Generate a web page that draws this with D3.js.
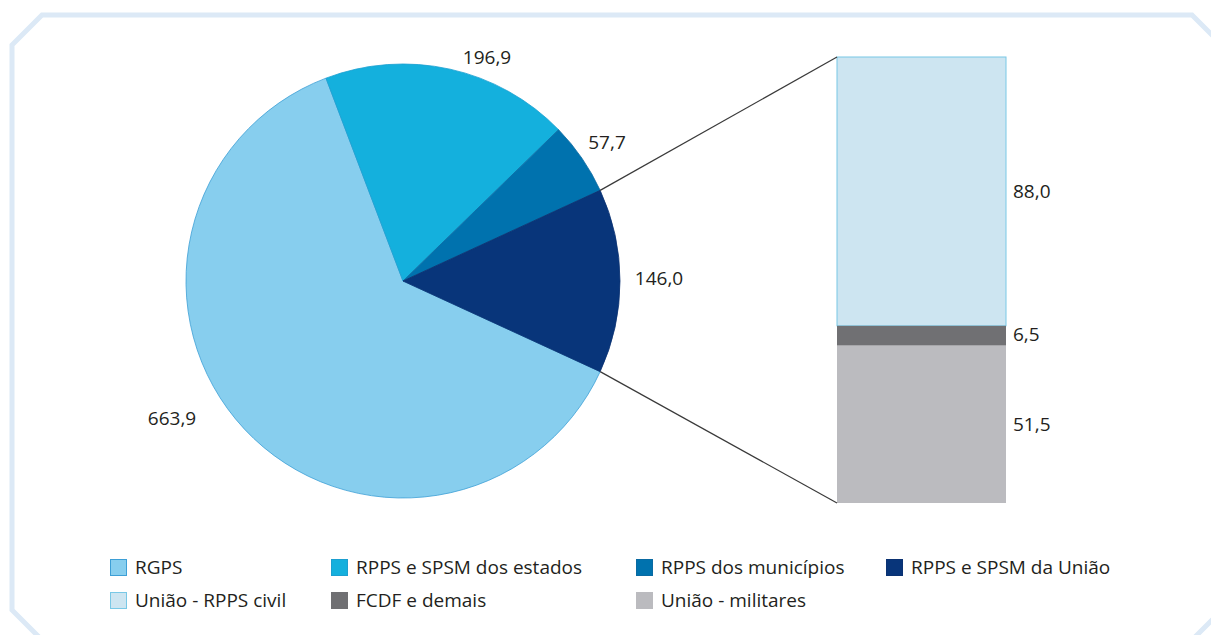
<!DOCTYPE html>
<html>
<head>
<meta charset="utf-8">
<script src="https://cdn.jsdelivr.net/npm/d3@7"></script>
<style>
  body { margin: 0; background: #fff; }
  text { font-family: "Open Sans", sans-serif; fill: #231f20; }
</style>
</head>
<body>
<div id="chart"></div>
<script>
var width = 1211;
var height = 635;

// pie data (R$ bilhões)
var pieLabels = ["RGPS", "RPPS e SPSM dos estados", "RPPS dos municípios", "RPPS e SPSM da União"];
var pieValues = [663.9, 196.9, 57.7, 146.0];
var pieColors = ["#87ceee", "#14b0dd", "#0072ae", "#08357a"];
var pieStroke = ["#3d9fd6", "#1c9fd0", "#0a6aa2", "#0b3272"];

// breakdown of the União slice
var barLabels = ["União - RPPS civil", "FCDF e demais", "União - militares"];
var barValues = [88.0, 6.5, 51.5];
var barColors = ["#cde5f1", "#707073", "#bbbbbf"];
var barStroke = ["#79c8e6", "#707073", "#bbbbbf"];

var fmt = function(v){ return v.toFixed(1).replace(".", ","); };

var svg = d3.select("#chart")
            .append("svg")
            .attr("width", width)
            .attr("height", height);

// frame with cut corners
var fx0 = 12, fy0 = 15, fx1 = 1222, fy1 = 640, cut = 30;
svg.append("path")
    .attr("d", "M" + (fx0+cut) + "," + fy0 + "L" + (fx1-cut) + "," + fy0 + "L" + fx1 + "," + (fy0+cut) +
               "L" + fx1 + "," + (fy1-cut) + "L" + (fx1-cut) + "," + fy1 + "L" + (fx0+cut) + "," + fy1 +
               "L" + fx0 + "," + (fy1-cut) + "L" + fx0 + "," + (fy0+cut) + "Z")
    .style("fill", "none")
    .style("stroke", "#dce9f6")
    .style("stroke-width", 5);

// pie
var cx = 403, cy = 281, r = 217;
var total = d3.sum(pieValues);
var uniaoAngle = pieValues[3] / total * 2 * Math.PI;
var start = Math.PI / 2 + uniaoAngle / 2;

var pie = d3.pie().sort(null).startAngle(start).endAngle(start + 2 * Math.PI);
var arcs = pie(pieValues);
var arc = d3.arc().innerRadius(0).outerRadius(r);

var g = svg.append("g").attr("transform", "translate(" + cx + "," + cy + ")");
g.selectAll("path")
    .data(arcs)
    .enter()
    .append("path")
    .attr("d", arc)
    .style("fill", function(d, i){ return pieColors[i]; })
    .style("stroke", function(d, i){ return pieStroke[i]; })
    .style("stroke-width", 0.8);

// pie labels
var labelPos = [[-231, 137], [84, -224], [204, -139], [256, -3]];
g.selectAll("text.val")
    .data(arcs)
    .enter()
    .append("text")
    .attr("class", "val")
    .attr("x", function(d, i){ return labelPos[i][0]; })
    .attr("y", function(d, i){ return labelPos[i][1]; })
    .attr("dy", "0.35em")
    .attr("text-anchor", "middle")
    .style("font-size", "19px")
    .text(function(d){ return fmt(d.value); });

// stacked bar
var bx = 837, bw = 169, btop = 57, bbot = 503;
var y = d3.scaleLinear().domain([0, d3.sum(barValues)]).range([btop, bbot]);
var cum = 0;
var segs = barValues.map(function(v, i){
    var s = {i: i, v: v, y0: cum, y1: cum + v};
    cum += v;
    return s;
});

svg.selectAll("rect.seg")
    .data(segs)
    .enter()
    .append("rect")
    .attr("class", "seg")
    .attr("x", bx)
    .attr("y", function(d){ return y(d.y0); })
    .attr("width", bw)
    .attr("height", function(d){ return y(d.y1) - y(d.y0); })
    .style("fill", function(d){ return barColors[d.i]; })
    .style("stroke", function(d){ return barStroke[d.i]; })
    .style("stroke-width", function(d){ return d.i === 0 ? 1 : 0; });

svg.selectAll("text.seg")
    .data(segs)
    .enter()
    .append("text")
    .attr("class", "seg")
    .attr("x", bx + bw + 7)
    .attr("y", function(d){ return d.i === 1 ? y(d.y0) + 9 : (y(d.y0) + y(d.y1)) / 2; })
    .attr("dy", "0.35em")
    .style("font-size", "19px")
    .text(function(d){ return fmt(d.v); });

// connector lines from the União slice edges to the bar
var ua = arcs[3];
[ua.startAngle, ua.endAngle].forEach(function(a, k){
    svg.append("line")
        .attr("x1", cx + r * Math.sin(a))
        .attr("y1", cy - r * Math.cos(a))
        .attr("x2", bx)
        .attr("y2", k === 0 ? btop : bbot)
        .style("stroke", "#3a3a3a")
        .style("stroke-width", 1.2);
});

// legend
var legendItems = pieLabels.map(function(l, i){ return {label: l, fill: pieColors[i], stroke: pieStroke[i]}; })
    .concat(barLabels.map(function(l, i){ return {label: l, fill: barColors[i], stroke: barStroke[i]}; }));
var legendX = [110, 331, 636, 886];
var legendY = [567, 600];

var keys = svg.selectAll("g.key")
    .data(legendItems)
    .enter()
    .append("g")
    .attr("class", "key")
    .attr("transform", function(d, i){
        return "translate(" + legendX[i % 4] + "," + legendY[Math.floor(i / 4)] + ")";
    });

keys.append("rect")
    .attr("x", 0.5)
    .attr("y", -7.5)
    .attr("width", 16)
    .attr("height", 16)
    .style("fill", function(d){ return d.fill; })
    .style("stroke", function(d){ return d.stroke; })
    .style("stroke-width", 1);

keys.append("text")
    .attr("x", 25)
    .attr("dy", "0.35em")
    .style("font-size", "19px")
    .text(function(d){ return d.label; });
</script>
</body>
</html>
